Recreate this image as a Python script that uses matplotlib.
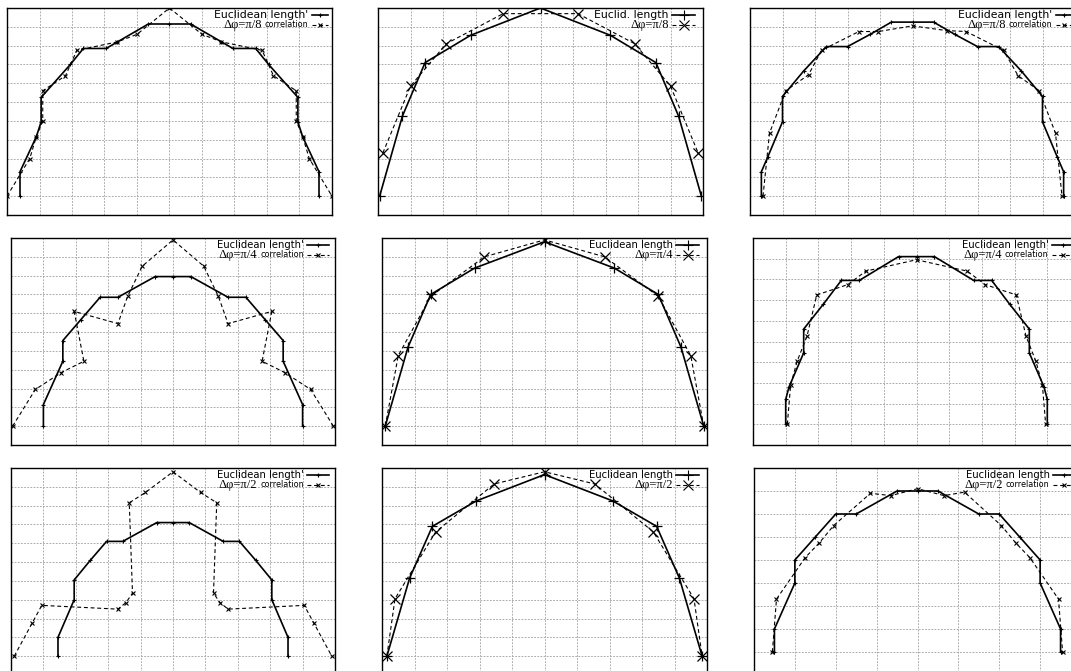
import matplotlib.pyplot as plt

plt.rcParams['font.family'] = ['DejaVu Sans']

W, H = 1071, 671

# ---- row 1 : delta phi = pi/8 ----
eu1_x = [-4.6, -4.6, -4.1, -3.95, -3.95, -3.05, -2.65, -1.95, -1.6, -0.65, 0, 0.65, 1.6, 1.95, 2.65, 3.05, 3.95, 3.95, 4.1, 4.6, 4.6]
eu1_y = [0, 1.3, 3.15, 3.95, 5.25, 7.0, 7.85, 7.85, 8.2, 9.15, 9.15, 9.15, 8.2, 7.85, 7.85, 7.0, 5.25, 3.95, 3.15, 1.3, 0]
co1_x = [-5, -4.3, -4.1, -3.9, -3.9, -3.2, -2.85, -1.6, -1.0, 0, 1.0, 1.6, 2.85, 3.2, 3.9, 3.9, 4.1, 4.3, 5]
co1_y = [0, 2.0, 3.15, 4.0, 5.6, 6.4, 7.75, 8.2, 8.6, 10, 8.6, 8.2, 7.75, 6.4, 5.6, 4.0, 3.15, 2.0, 0]

eu2_x = [-4.95, -4.25, -3.55, -2.15, 0, 2.15, 3.55, 4.25, 4.95]
eu2_y = [0, 4.25, 7.1, 8.55, 10, 8.55, 7.1, 4.25, 0]
dp2_x = [-4.85, -4.0, -2.9, -1.15, 1.15, 2.9, 4.0, 4.85]
dp2_y = [2.3, 5.85, 8.1, 9.7, 9.7, 8.1, 5.85, 2.3]

eu3_x = [-4.65, -4.65, -4.45, -4.0, -4.0, -3.35, -2.65, -2.0, -1.3, -0.65, 0, 0.65, 1.3, 2.0, 2.65, 3.35, 4.0, 4.0, 4.45, 4.65, 4.65]
eu3_y = [0, 1.3, 2.1, 3.95, 5.3, 6.65, 7.95, 7.95, 8.6, 9.25, 9.25, 9.25, 8.6, 7.95, 7.95, 6.65, 5.3, 3.95, 2.1, 1.3, 0]
co3_x = [-4.6, -4.4, -3.9, -3.2, -2.8, -1.65, -1.05, 0, 1.05, 1.65, 2.8, 3.25, 3.9, 4.4, 4.6]
co3_y = [0, 3.35, 5.6, 6.45, 7.75, 8.75, 8.75, 9.05, 8.8, 8.75, 7.75, 6.4, 5.6, 3.35, 0]

# ---- row 2 : delta phi = pi/4 ----
eu4_x = [-4.0, -4.0, -3.4, -3.4, -2.85, -2.25, -1.7, -0.55, 0, 0.55, 1.7, 2.25, 2.85, 3.4, 3.4, 4.0, 4.0]
eu4_y = [0, 1.15, 3.45, 4.55, 5.65, 6.85, 6.85, 7.95, 7.95, 7.95, 6.85, 6.85, 5.65, 4.55, 3.45, 1.15, 0]
co4_x = [-4.95, -4.25, -3.45, -2.75, -3.05, -1.7, -1.4, -0.95, 0, 0.95, 1.4, 1.7, 3.05, 2.75, 3.45, 4.25, 4.95]
co4_y = [0, 1.95, 2.85, 3.45, 6.1, 5.45, 6.9, 8.5, 9.9, 8.5, 6.9, 5.45, 6.1, 3.45, 2.85, 1.95, 0]

eu5_x = [-4.9, -4.2, -3.5, -2.15, 0, 2.15, 3.5, 4.2, 4.9]
eu5_y = [0, 4.2, 7.0, 8.4, 9.8, 8.4, 7.0, 4.2, 0]
dp5_x = [-4.9, -4.5, -3.5, -1.85, 0, 1.85, 3.5, 4.5, 4.9]
dp5_y = [0, 3.75, 6.9, 9.0, 9.9, 9.0, 6.9, 3.75, 0]

eu6_x = [-4.0, -4.0, -3.9, -3.45, -3.45, -2.85, -2.3, -1.75, -0.55, 0, 0.55, 1.75, 2.3, 2.85, 3.45, 3.45, 3.9, 4.0, 4.0]
eu6_y = [0, 1.2, 1.8, 3.45, 4.6, 5.8, 6.95, 6.95, 8.1, 8.1, 8.1, 6.95, 6.95, 5.8, 4.6, 3.45, 1.8, 1.2, 0]
co6_x = [-3.95, -3.85, -3.65, -3.35, -3.05, -2.1, -1.55, 0, 1.55, 2.1, 3.05, 3.35, 3.65, 3.85, 3.95]
co6_y = [0, 1.9, 3.05, 4.25, 6.25, 6.75, 7.4, 7.95, 7.4, 6.75, 6.25, 4.25, 3.05, 1.9, 0]

# ---- row 3 : delta phi = pi/2 ----
eu7_x = [-3.55, -3.55, -3.05, -3.05, -2.55, -2.05, -1.55, -0.5, 0, 0.5, 1.55, 2.05, 2.55, 3.05, 3.05, 3.55, 3.55]
eu7_y = [0, 1.0, 3.0, 4.05, 5.1, 6.1, 6.1, 7.1, 7.1, 7.1, 6.1, 6.1, 5.1, 4.05, 3.0, 1.0, 0]
co7_x = [-4.9, -4.35, -4.05, -1.7, -1.45, -1.25, -1.35, -0.85, 0, 0.85, 1.35, 1.25, 1.45, 1.7, 4.05, 4.35, 4.9]
co7_y = [0, 1.75, 2.7, 2.5, 2.85, 3.35, 8.15, 8.7, 9.8, 8.7, 8.15, 3.35, 2.85, 2.5, 2.7, 1.75, 0]

eu8_x = [-4.85, -4.15, -3.45, -2.1, 0, 2.1, 3.45, 4.15, 4.85]
eu8_y = [0, 4.15, 6.9, 8.25, 9.65, 8.25, 6.9, 4.15, 0]
dp8_x = [-4.85, -4.6, -3.35, -1.55, 0, 1.55, 3.35, 4.6, 4.85]
dp8_y = [0, 3.05, 6.6, 9.15, 9.8, 9.15, 6.6, 3.05, 0]

eu9_x = [-3.5, -3.5, -3.0, -3.0, -2.5, -2.0, -1.5, -0.5, 0, 0.5, 1.5, 2.0, 2.5, 3.0, 3.0, 3.5, 3.5]
eu9_y = [0, 1, 3, 4, 5, 6, 6, 7, 7, 7, 6, 6, 5, 4, 3, 1, 0]
co9_x = [-3.55, -3.45, -2.75, -2.4, -2.05, -1.15, -0.65, 0, 0.65, 1.15, 2.05, 2.4, 2.75, 3.45, 3.55]
co9_y = [0, 2.3, 4.1, 4.75, 5.5, 6.9, 6.8, 7.1, 6.8, 6.95, 5.5, 4.75, 4.1, 2.3, 0]

DASH = (0, (3.5, 2.5))


def panel(left, top, w, h, xlim, ylim):
    ax = fig.add_axes([left / W, 1 - (top + h) / H, w / W, h / H])
    ax.set_xlim(*xlim)
    ax.set_ylim(*ylim)
    ax.set_xticks(range(int(xlim[0]), int(xlim[1]) + 1))
    ax.set_yticks(range(int(ylim[0]), int(ylim[1]) + 1))
    ax.set_xticklabels([])
    ax.set_yticklabels([])
    ax.tick_params(length=0)
    ax.grid(True, color='#a6a6a6', lw=0.65, linestyle=(0, (2, 1.5)))
    for s in ax.spines.values():
        s.set_linewidth(1.0)
    return ax


def key(ax, label1, phi, corr, small, xt, xs, y1=0.968, y2=0.918, fs=7.6):
    # two-line key in the upper right corner, text right-aligned before the sample
    ms1, ms2 = (3.5, 3) if small else (7, 6.5)
    ax.text(xt, y1, label1, transform=ax.transAxes, ha='right', va='center', fontsize=fs)
    ax.plot(xs, [y1, y1], transform=ax.transAxes, color='k', lw=1.2, clip_on=False)
    ax.plot([sum(xs) / 2], [y1], transform=ax.transAxes, color='k', marker='+',
            ms=ms1, mew=0.8, clip_on=False)
    if corr:
        t = ax.text(xt, y2, 'correlation', transform=ax.transAxes, ha='right',
                    va='center', fontsize=5.8)
        ax.annotate(phi, xy=(0, 0.45), xycoords=t, xytext=(-2, 0), textcoords='offset points',
                    ha='right', va='center', fontsize=9, family='Liberation Serif')
    else:
        ax.text(xt, y2, phi, transform=ax.transAxes, ha='right', va='center',
                fontsize=9, family='Liberation Serif')
    ax.plot(xs, [y2, y2], transform=ax.transAxes, color='k', lw=0.8, linestyle=DASH, clip_on=False)
    ax.plot([sum(xs) / 2], [y2], transform=ax.transAxes, color='k', marker='x',
            ms=ms2, mew=0.8, clip_on=False)


def curves(ax, ex, ey, cx, cy, small):
    if small:
        ax.plot(ex, ey, color='k', lw=1.2, marker='+', ms=3.5, mew=0.8)
        ax.plot(cx, cy, color='k', lw=0.8, linestyle=DASH, marker='x', ms=3, mew=0.8)
    else:
        ax.plot(ex, ey, color='k', lw=1.2, marker='+', ms=7, mew=0.9)
        ax.plot(cx, cy, color='k', lw=0.8, linestyle=DASH, marker='x', ms=6.5, mew=0.9)


fig = plt.figure(figsize=(W / 100, H / 100), dpi=100)

ax = panel(7, 8, 325, 207, (-5, 5), (-1, 10))
curves(ax, eu1_x, eu1_y, co1_x, co1_y, True)
key(ax, "Euclidean length'", 'Δφ=π/8', True, True, 0.926, [0.938, 0.988], fs=7.8)

ax = panel(378, 8, 325, 207, (-5, 5), (-1, 10))
curves(ax, eu2_x, eu2_y, dp2_x, dp2_y, False)
key(ax, 'Euclid. length', 'Δφ=π/8', False, False, 0.895, [0.905, 0.975], fs=7.8)

ax = panel(750, 8, 325, 207, (-5, 5), (-1, 10))
curves(ax, eu3_x, eu3_y, co3_x, co3_y, True)
key(ax, "Euclidean length'", 'Δφ=π/8', True, True, 0.929, [0.94, 0.99], fs=7.8)

ax = panel(11, 238, 324, 207, (-5, 5), (-1, 10))
curves(ax, eu4_x, eu4_y, co4_x, co4_y, True)
key(ax, "Euclidean length'", 'Δφ=π/4', True, True, 0.904, [0.914, 0.98], fs=7.2)

ax = panel(382, 238, 325, 207, (-5, 5), (-1, 10))
curves(ax, eu5_x, eu5_y, dp5_x, dp5_y, False)
key(ax, 'Euclidean length', 'Δφ=π/4', False, False, 0.895, [0.905, 0.975], fs=7.2)

ax = panel(753, 238, 327, 207, (-5, 5), (-1, 9))
curves(ax, eu6_x, eu6_y, co6_x, co6_y, True)
key(ax, "Euclidean length'", 'Δφ=π/4', True, True, 0.904, [0.914, 0.98], fs=7.2)

ax = panel(11, 468, 324, 207, (-5, 5), (-1, 10))
curves(ax, eu7_x, eu7_y, co7_x, co7_y, True)
key(ax, "Euclidean length'", 'Δφ=π/2', True, True, 0.904, [0.914, 0.98], fs=7.2)

ax = panel(382, 468, 325, 207, (-5, 5), (-1, 10))
curves(ax, eu8_x, eu8_y, dp8_x, dp8_y, False)
key(ax, 'Euclidean length', 'Δφ=π/2', False, False, 0.895, [0.905, 0.975], fs=7.2)

ax = panel(754, 468, 327, 207, (-4, 4), (-1, 8))
curves(ax, eu9_x, eu9_y, co9_x, co9_y, True)
key(ax, 'Euclidean length', 'Δφ=π/2', True, True, 0.904, [0.914, 0.98], fs=7.2)

fig.savefig('out.png', dpi=100)
